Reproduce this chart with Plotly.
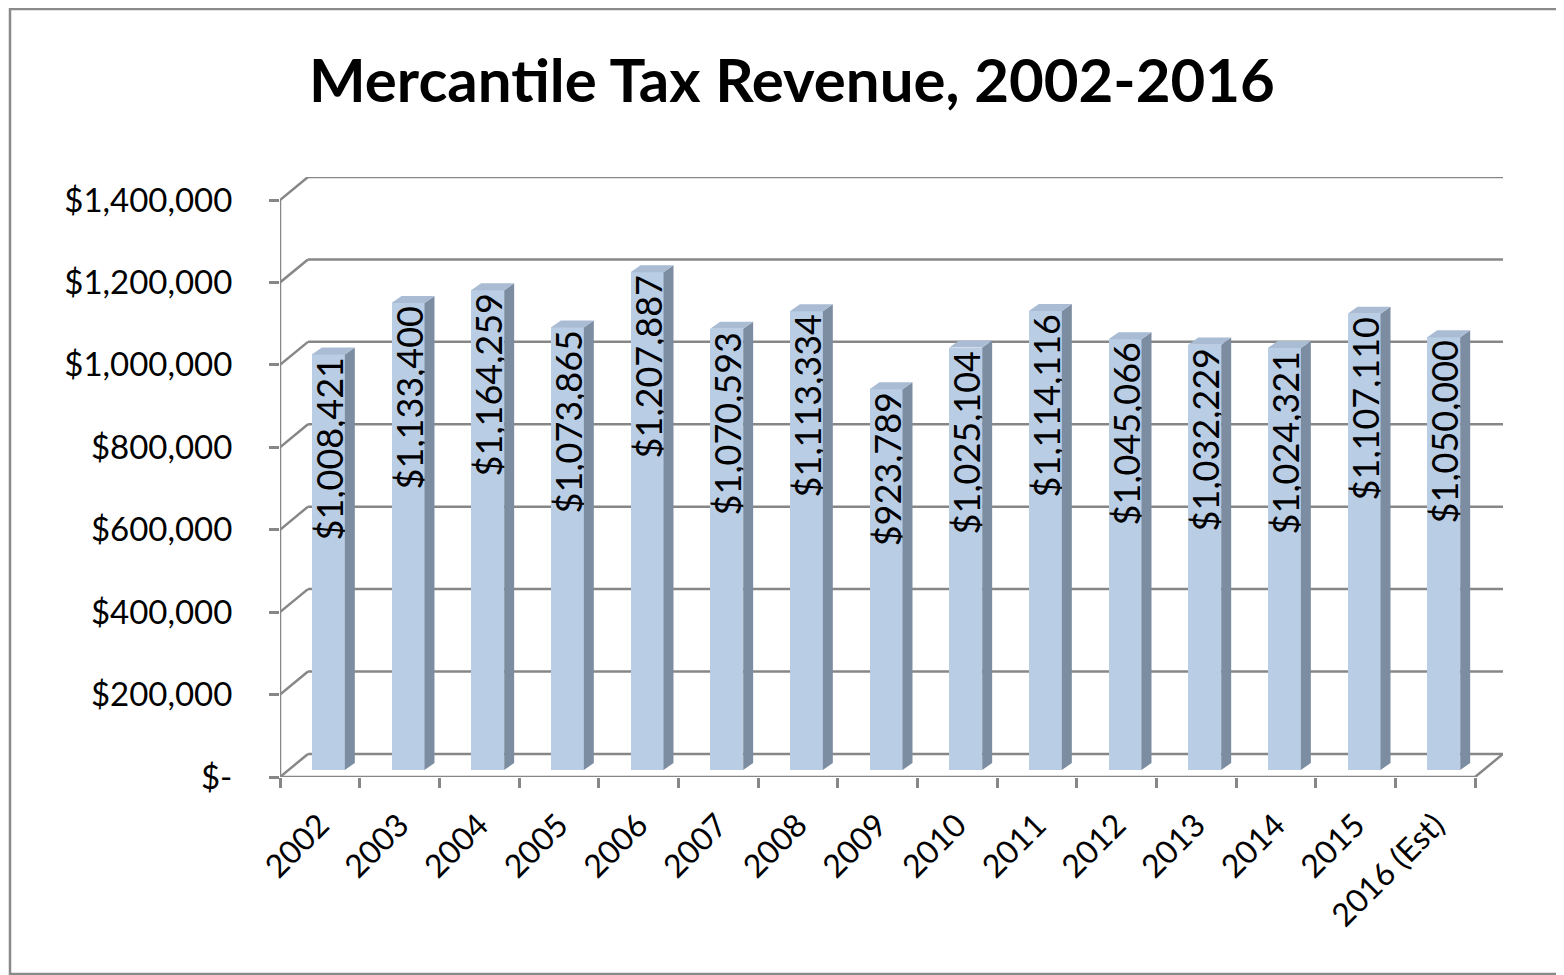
import plotly.graph_objects as go

# ---- data ----
categories = ["2002", "2003", "2004", "2005", "2006", "2007", "2008", "2009",
              "2010", "2011", "2012", "2013", "2014", "2015", "2016 (Est)"]
revenue = [1008421, 1133400, 1164259, 1073865, 1207887, 1070593, 1113334, 923789,
           1025104, 1114116, 1045066, 1032229, 1024321, 1107110, 1050000]
y_ticks = [0, 200000, 400000, 600000, 800000, 1000000, 1200000, 1400000]
y_ticktext = ["$-" if v == 0 else "${:,}".format(v) for v in y_ticks]
title = "Mercantile Tax Revenue, 2002-2016"

# ---- pseudo-3D geometry (in axis units) ----
DX = 0.351        # wall depth, category units
DY = 56000        # wall depth, value units
BAR_OFF = 0.107   # bar front-face centre offset from category centre
BAR_W = 0.414     # bar front-face width
BAR_BASE = 17000  # bar front sits slightly behind the front plane
BDX = 0.125       # bar depth (x)
BDY = 17000       # bar depth (y)

FRONT = "#b9cde5"
SIDE = "#7d8da1"
TOP = "#a9bcd4"
GRID = "#878787"

W, H = 1556, 967
ML, MR, MT, MB = 272, 61, 169, 198

n = len(categories)
xs = list(range(n))
x_left = -0.5
x_right = n - 0.5
ymax = y_ticks[-1]

fig = go.Figure()

shapes = []
def seg(x0, y0, x1, y1):
    shapes.append(dict(type="line", xref="x", yref="y", x0=x0, y0=y0, x1=x1, y1=y1,
                       line=dict(color=GRID, width=2.5), layer="below"))

# back wall gridlines and left wall diagonals
for t in y_ticks:
    seg(x_left + DX, t + DY, x_right + DX, t + DY)
    seg(x_left, t, x_left + DX, t + DY)
# floor front edge and right diagonal
seg(x_left, 0, x_right, 0)
seg(x_right, 0, x_right + DX, DY)
# vertical value axis
seg(x_left, 0, x_left, ymax)

# bar front faces
fig.add_trace(go.Bar(
    x=[i + BAR_OFF for i in xs], y=revenue, base=BAR_BASE, width=BAR_W,
    marker=dict(color=FRONT, line=dict(width=0)),
    text=["${:,}".format(v) for v in revenue],
    textposition="inside", insidetextanchor="end", textangle=-90,
    constraintext="none",
    textfont=dict(family="Lato", size=36, color="#000000"),
    hoverinfo="skip", showlegend=False,
))

# side and top faces
sx, sy, tx, ty = [], [], [], []
for i, v in zip(xs, revenue):
    xr = i + BAR_OFF + BAR_W / 2
    xl = xr - BAR_W
    top = BAR_BASE + v
    sx += [xr, xr, xr + BDX, xr + BDX, xr, None]
    sy += [BAR_BASE, top, top + BDY, BAR_BASE + BDY, BAR_BASE, None]
    tx += [xl, xr, xr + BDX, xl + BDX, xl, None]
    ty += [top, top, top + BDY, top + BDY, top, None]

fig.add_trace(go.Scatter(x=sx, y=sy, mode="lines", fill="toself", fillcolor=SIDE,
                         line=dict(width=0, color=SIDE), hoverinfo="skip", showlegend=False))
fig.add_trace(go.Scatter(x=tx, y=ty, mode="lines", fill="toself", fillcolor=TOP,
                         line=dict(width=0, color=TOP), hoverinfo="skip", showlegend=False))

# outer chart border (figure pixel positions -> paper units)
pw, ph = W - ML - MR, H - MT - MB
shapes.append(dict(type="rect", xref="paper", yref="paper",
                   x0=(2 - ML) / pw, x1=(W + 40 - ML) / pw,
                   y0=(H - MB - (H - 1)) / ph, y1=(H - MB - 1) / ph,
                   line=dict(color="#8a8a8a", width=2.5), layer="below"))

fig.update_layout(
    width=W, height=H,
    margin=dict(l=ML, r=MR, t=MT, b=MB, autoexpand=False),
    paper_bgcolor="white", plot_bgcolor="white",
    shapes=shapes,
    bargap=0,
    title=dict(text="<b>" + title + "</b>", x=784 / W, xanchor="center",
               y=1 - 73 / H, yanchor="middle", yref="container",
               font=dict(family="Lato", size=60, color="#000000")),
    xaxis=dict(range=[x_left, x_right + DX], showgrid=False, zeroline=False,
               showline=False, tickmode="array", tickvals=xs, ticktext=categories,
               ticks="", tickangle=-45, ticklabelstandoff=22,
               tickfont=dict(family="Lato", size=32, color="#000000"),
               minor=dict(tickmode="array",
                          tickvals=[x_left + k for k in range(n + 1)],
                          ticks="outside", ticklen=10, tickwidth=2.5, tickcolor=GRID,
                          showgrid=False),
               fixedrange=True),
    yaxis=dict(range=[0, ymax + DY], showgrid=False, zeroline=False, showline=False,
               tickmode="array", tickvals=y_ticks, ticktext=y_ticktext,
               ticks="outside", ticklen=10, tickwidth=2.5, tickcolor=GRID,
               ticklabelstandoff=30,
               tickfont=dict(family="Lato", size=33, color="#000000"),
               fixedrange=True),
)

fig.write_html("out.html")
